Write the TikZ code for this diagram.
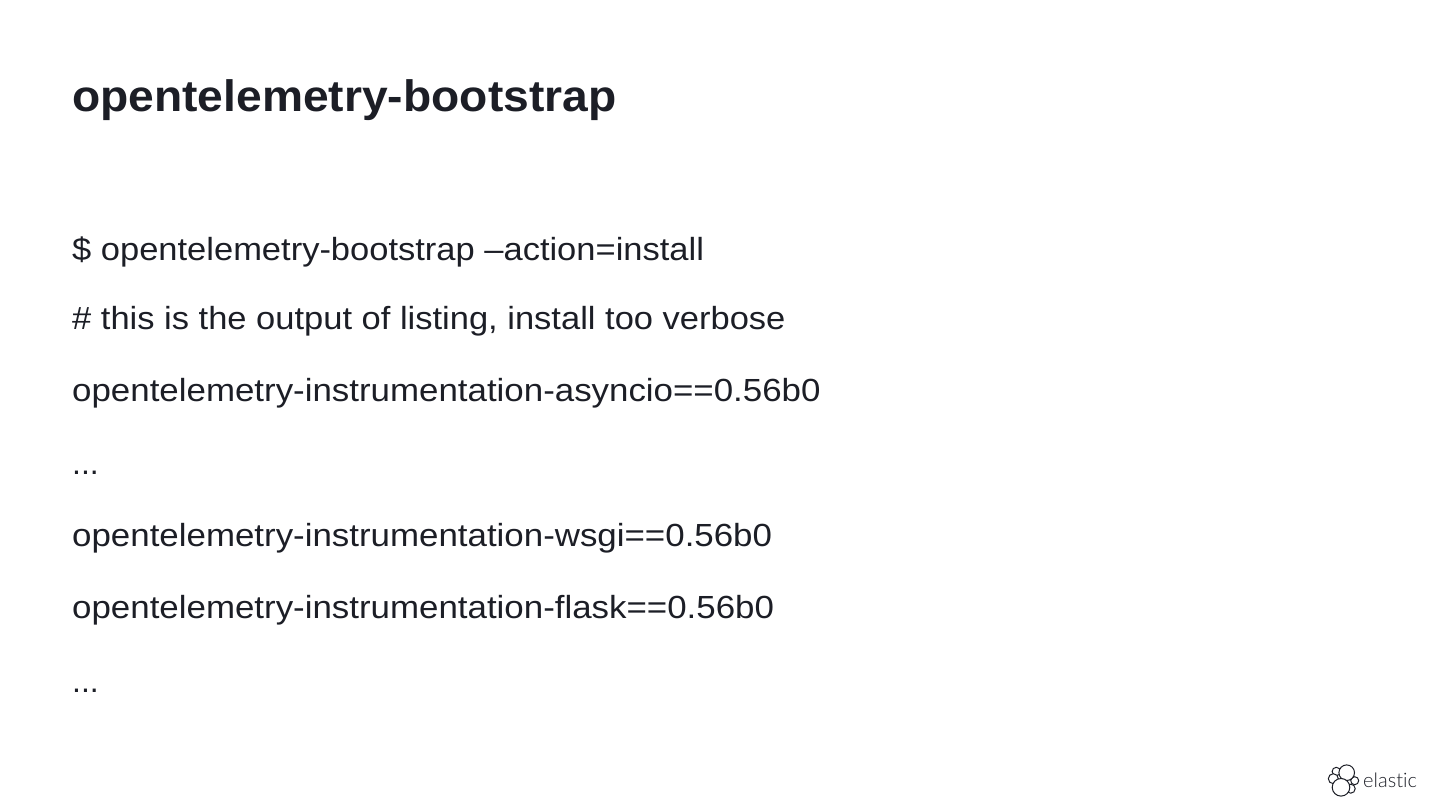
\documentclass[tikz,border=0pt]{standalone}
\usepackage{fontspec}
\setmainfont{Liberation Sans}
\newfontfamily\lineA[FakeStretch=1.078]{Liberation Sans}
\newfontfamily\lineB[FakeStretch=1.09]{Liberation Sans}
\newfontfamily\titlefont[FakeStretch=1.05]{Liberation Sans}
\newfontfamily\logofont[Ligatures=NoCommon]{Lato Light}
\definecolor{ink}{HTML}{1C1E26}
\tikzset{
  line/.style={anchor=base west,inner sep=0pt,text=ink,font=\fontsize{32}{32}\selectfont},
  title/.style={anchor=base west,inner sep=0pt,text=ink,font=\titlefont\fontsize{44}{44}\selectfont\bfseries},
  ring/.style={draw=ink,line width=1pt,fill=white},
  logotext/.style={anchor=base west,inner sep=0pt,text=ink,font=\logofont\fontsize{20}{20}\selectfont}
}
\begin{document}
\begin{tikzpicture}[x=1pt,y=-1pt]
\useasboundingbox (0,0) rectangle (1440,810);
\node[title] (t) at (72,112) {opentelemetry-bootstrap};
\node[line,font=\lineA\fontsize{32}{32}\selectfont] (a) at (72,261) {\$ opentelemetry-bootstrap –action=install};
\node[line,font=\lineA\fontsize{32}{32}\selectfont] (b) at (72,329) {\# this is the output of listing, install too verbose};
\node[line,font=\lineB\fontsize{32}{32}\selectfont] (c) at (72,401) {opentelemetry-instrumentation-asyncio==0.56b0};
\node[line] (d) at (72,474) {...};
\node[line,font=\lineB\fontsize{32}{32}\selectfont] (e) at (72,546) {opentelemetry-instrumentation-wsgi==0.56b0};
\node[line,font=\lineB\fontsize{32}{32}\selectfont] (f) at (72,618) {opentelemetry-instrumentation-flask==0.56b0};
\node[line] (g) at (72,692) {...};
\draw[ring] (1336.3,771.5) circle (4.2);
\draw[ring] (1333.3,778.7) circle (5);
\draw[ring] (1354.7,780.7) circle (4);
\draw[ring] (1350.7,788.7) circle (4.5);
\draw[ring] (1346.7,772.7) circle (7.8);
\draw[ring] (1341,787.3) circle (8.8);
\node[logotext] (l) at (1363,787) {elas\kern0pt t\kern0pt ic};
\end{tikzpicture}
\end{document}
